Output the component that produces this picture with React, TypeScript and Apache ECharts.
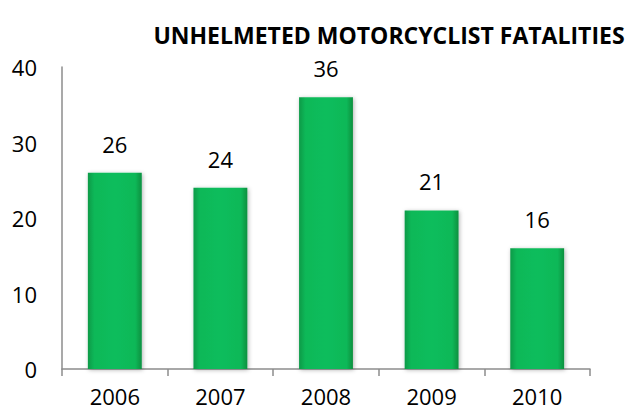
import React, { useEffect, useRef } from "react";
import * as echarts from "echarts";

const categories = ["2006", "2007", "2008", "2009", "2010"];
const fatalities = [26, 24, 36, 21, 16];
const titleText = "UNHELMETED MOTORCYCLIST FATALITIES";

export default function App() {
  const ref = useRef<HTMLDivElement>(null);
  useEffect(() => {
    if (!ref.current) return;
    const chart = echarts.init(ref.current, null, { renderer: "svg" });
    const font = "'Open Sans', sans-serif";
    chart.setOption({
      animation: false,
      title: {
        text: titleText,
        left: 384,
        textAlign: "center",
        top: 18,
        textStyle: { fontFamily: font, fontSize: 23, fontWeight: "bold", color: "#000" },
      },
      grid: { left: 62, right: 43, top: 67, bottom: 48 },
      xAxis: {
        type: "category",
        data: categories,
        axisLine: { lineStyle: { color: "#8c8c8c", width: 1.5 } },
        axisTick: { show: true, length: 7, lineStyle: { color: "#8c8c8c", width: 1.5 } },
        axisLabel: { fontFamily: font, fontSize: 22, color: "#000", margin: 16 },
      },
      yAxis: {
        type: "value",
        min: 0,
        max: 40,
        interval: 10,
        splitLine: { show: false },
        axisLine: { show: true, lineStyle: { color: "#8c8c8c", width: 1.5 } },
        axisTick: { show: false },
        axisLabel: { fontFamily: font, fontSize: 22, color: "#000", margin: 25 },
      },
      series: [
        {
          type: "bar",
          data: fatalities,
          barWidth: "51%",
          itemStyle: {
            color: new echarts.graphic.LinearGradient(0, 0, 1, 0, [
              { offset: 0, color: "#0a9a48" },
              { offset: 0.12, color: "#10b858" },
              { offset: 0.5, color: "#10bd5c" },
              { offset: 0.88, color: "#10b858" },
              { offset: 1, color: "#08903f" },
            ]),
            shadowColor: "rgba(0,0,0,0.3)",
            shadowBlur: 4,
            shadowOffsetX: 1,
            shadowOffsetY: 1,
          },
          label: {
            show: true,
            position: "top",
            distance: 18,
            fontFamily: font,
            fontSize: 22,
            color: "#000",
          },
        },
      ],
    });
    return () => chart.dispose();
  }, []);
  return <div ref={ref} style={{ width: 633, height: 417, position: "absolute", left: 0, top: 0 }} />;
}
